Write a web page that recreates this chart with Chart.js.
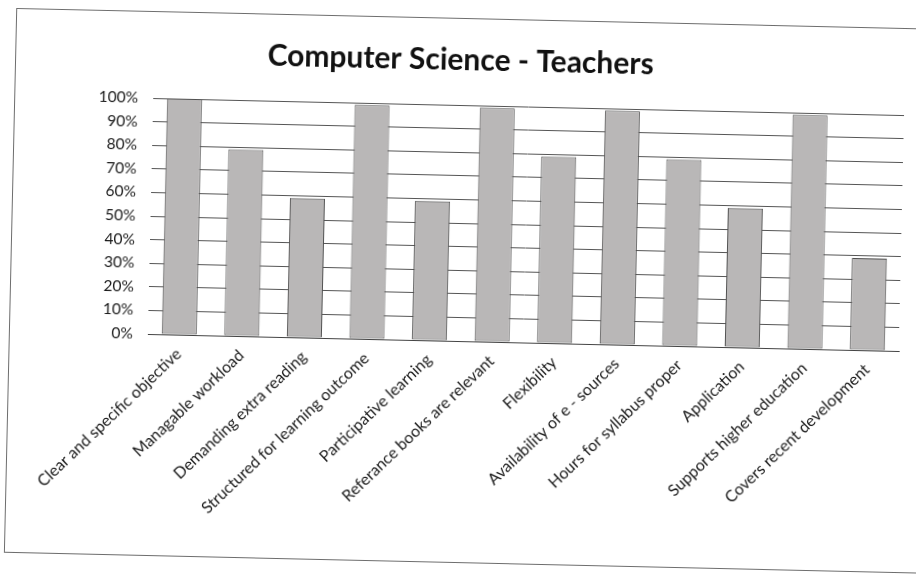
<!DOCTYPE html>
<html>
<head>
<meta charset="utf-8">
<script src="https://cdn.jsdelivr.net/npm/chart.js@4.4.1/dist/chart.umd.min.js"></script>
<style>
  html, body { margin: 0; padding: 0; background: #fff; }
  body { width: 916px; height: 576px; overflow: hidden; position: relative; }
  /* scanned page is slightly tilted, so the whole frame is rotated a bit */
  #frame {
    position: absolute; left: 10px; top: 18px;
    width: 915px; height: 545px;
    border: 1px solid #6e6e6e;
    box-sizing: border-box;
    transform: rotate(1.3deg);
    transform-origin: 448px 270px;
    background: #fff;
  }
  #cs { display: block; }
</style>
</head>
<body>
<div id="frame"><canvas id="cs" width="913" height="543"></canvas></div>
<script>
/* ── Data ─────────────────────────────────────────────────────────── */
const categories = [
    'Clear and specific objective',
    'Managable workload',
    'Demanding extra reading',
    'Structured for learning outcome',
    'Participative learning',
    'Referance books are relevant',
    'Flexibility',
    'Availability of e - sources',
    'Hours for syllabus proper',
    'Application',
    'Supports higher education',
    'Covers recent development',
];
const values = [100, 79, 59, 99, 59, 99, 79, 99, 79, 59, 99, 39];
const yTicks = [0, 10, 20, 30, 40, 50, 60, 70, 80, 90, 100];

Chart.defaults.font.family = "Lato, 'Open Sans', sans-serif";
Chart.defaults.color = '#1a1a1a';

/* ── Bar chart ────────────────────────────────────────────────────── */
new Chart(document.getElementById('cs'), {
    type: 'bar',
    data: {
        labels: categories,
        datasets: [{
            data: values,
            backgroundColor: '#b9b7b7',
            borderColor: '#505050',
            borderWidth: 1,
            borderSkipped: false,
            barPercentage: 0.56,
            categoryPercentage: 1,
        }],
    },
    options: {
        responsive: false,
        animation: false,
        layout: { padding: { left: 0, right: 24, top: 0, bottom: 0 } },
        plugins: {
            legend: { display: false },
            tooltip: { enabled: false },
            title: {
                display: true,
                text: 'Computer Science - Teachers',
                font: { size: 30, weight: 'bold' },
                color: '#111',
                padding: { top: 23, bottom: 27 },
            },
        },
        scales: {
            y: {
                min: 0, max: 100,
                afterBuildTicks: s => { s.ticks = yTicks.map(v => ({ value: v })); },
                afterFit: s => { s.width = 138; },
                grid: { color: '#555', lineWidth: 1, drawTicks: false },
                border: { display: false },
                ticks: { padding: 15, font: { size: 15.5 }, callback: v => v + '%' },
            },
            x: {
                afterFit: s => { s.height = 221; },
                grid: { display: false },
                border: { display: true, color: '#444' },
                ticks: { minRotation: 45, maxRotation: 45, font: { size: 16 }, padding: 2 },
            },
        },
    },
});
</script>
</body>
</html>
